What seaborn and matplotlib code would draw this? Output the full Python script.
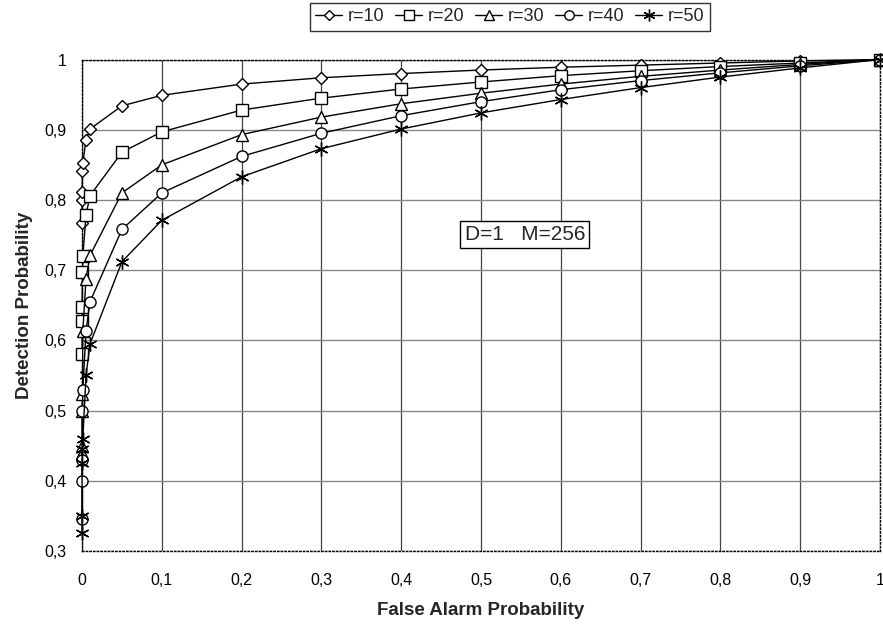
import matplotlib
matplotlib.use("Agg")
import matplotlib.pyplot as plt
import seaborn as sns
import pandas as pd
import numpy as np

# False alarm probability sample points
pfa = [0.00001, 0.00005, 0.0001, 0.0005, 0.001, 0.005, 0.01, 0.05,
       0.1, 0.2, 0.3, 0.4, 0.5, 0.6, 0.7, 0.8, 0.9, 1.0]

pd_r10 = [0.767, 0.800, 0.811, 0.841, 0.853, 0.885, 0.901, 0.934,
          0.949, 0.965, 0.974, 0.980, 0.985, 0.989, 0.992, 0.995, 0.998, 1.0]
pd_r20 = [0.580, 0.627, 0.647, 0.698, 0.720, 0.779, 0.806, 0.868,
          0.897, 0.928, 0.945, 0.958, 0.968, 0.977, 0.984, 0.990, 0.995, 1.0]
pd_r30 = [0.440, 0.450, 0.500, 0.523, 0.613, 0.688, 0.721, 0.810,
          0.850, 0.893, 0.918, 0.937, 0.952, 0.965, 0.976, 0.985, 0.993, 1.0]
pd_r40 = [0.345, 0.400, 0.430, 0.500, 0.530, 0.613, 0.655, 0.758,
          0.810, 0.862, 0.895, 0.920, 0.940, 0.957, 0.970, 0.981, 0.991, 1.0]
pd_r50 = [0.325, 0.350, 0.425, 0.445, 0.460, 0.550, 0.595, 0.712,
          0.771, 0.833, 0.873, 0.901, 0.924, 0.943, 0.960, 0.975, 0.988, 1.0]

series_names = ["r=10", "r=20", "r=30", "r=40", "r=50"]
series_vals = [pd_r10, pd_r20, pd_r30, pd_r40, pd_r50]

x_ticks = [0, 0.1, 0.2, 0.3, 0.4, 0.5, 0.6, 0.7, 0.8, 0.9, 1.0]
x_ticklabels = ["0", "0,1", "0,2", "0,3", "0,4", "0,5", "0,6", "0,7", "0,8", "0,9", "1"]
y_ticks = [0.3, 0.4, 0.5, 0.6, 0.7, 0.8, 0.9, 1.0]
y_ticklabels = ["0,3", "0,4", "0,5", "0,6", "0,7", "0,8", "0,9", "1"]

rows = []
for name, vals in zip(series_names, series_vals):
    for x, y in zip(pfa, vals):
        rows.append({"Pfa": x, "Pd": y, "r": name})
df = pd.DataFrame(rows)

sns.set_theme(style="white")
plt.rcParams["font.family"] = ["Liberation Sans", "DejaVu Sans"]

fig = plt.figure(figsize=(8.83, 6.29), dpi=100)
ax = fig.add_axes([0.0929, 0.124, 0.9037, 0.7814])

markers = {"r=10": "D", "r=20": "s", "r=30": "^", "r=40": "o", "r=50": (6, 2, 0)}
sizes_m = {"r=10": 6.5, "r=20": 8, "r=30": 8, "r=40": 8, "r=50": 10}

for name in series_names:
    sub = df[df["r"] == name]
    sns.lineplot(data=sub, x="Pfa", y="Pd", ax=ax, color="black", lw=1.0,
                 marker=markers[name], markersize=sizes_m[name],
                 markerfacecolor="white", markeredgecolor="black",
                 markeredgewidth=1.0, label=name, sort=False,
                 estimator=None, zorder=3, clip_on=False)

ax.set_xlim(0, 1)
ax.set_ylim(0.3, 1.0)
ax.set_xticks(x_ticks)
ax.set_xticklabels(x_ticklabels)
ax.set_yticks(y_ticks)
ax.set_yticklabels(y_ticklabels)
ax.tick_params(axis="both", direction="out", length=4, width=0.8,
               color="#777777", labelsize=11.5, labelcolor="black")
ax.tick_params(axis="x", pad=12)
ax.tick_params(axis="y", pad=7)

ax.grid(True, axis="x", color="#444444", lw=0.9)
ax.grid(True, axis="y", color="#888888", lw=1.0)
ax.set_axisbelow(True)

for sp in ax.spines.values():
    sp.set_visible(True)
    sp.set_color("black")
    sp.set_linestyle(":")
    sp.set_linewidth(1.0)

ax.set_xlabel("False Alarm Probability", fontsize=13.5, fontweight="bold", labelpad=10)
ax.set_ylabel("Detection Probability", fontsize=13.5, fontweight="bold", labelpad=8)

ax.text(0.555, 0.751, "D=1   M=256", fontsize=15, ha="center", va="center",
        bbox=dict(boxstyle="square,pad=0.2", fc="white", ec="black", lw=1.0),
        zorder=4)

leg = ax.legend(loc="center", bbox_to_anchor=(0.536, 1.087), ncol=5, frameon=True,
                fancybox=False, edgecolor="black", fontsize=13, handlelength=1.5,
                handletextpad=0.3, columnspacing=0.6, borderpad=0.3,
                markerscale=0.85)
leg.get_frame().set_linewidth(1.0)

fig.savefig("out.png", dpi=100, facecolor="white")
